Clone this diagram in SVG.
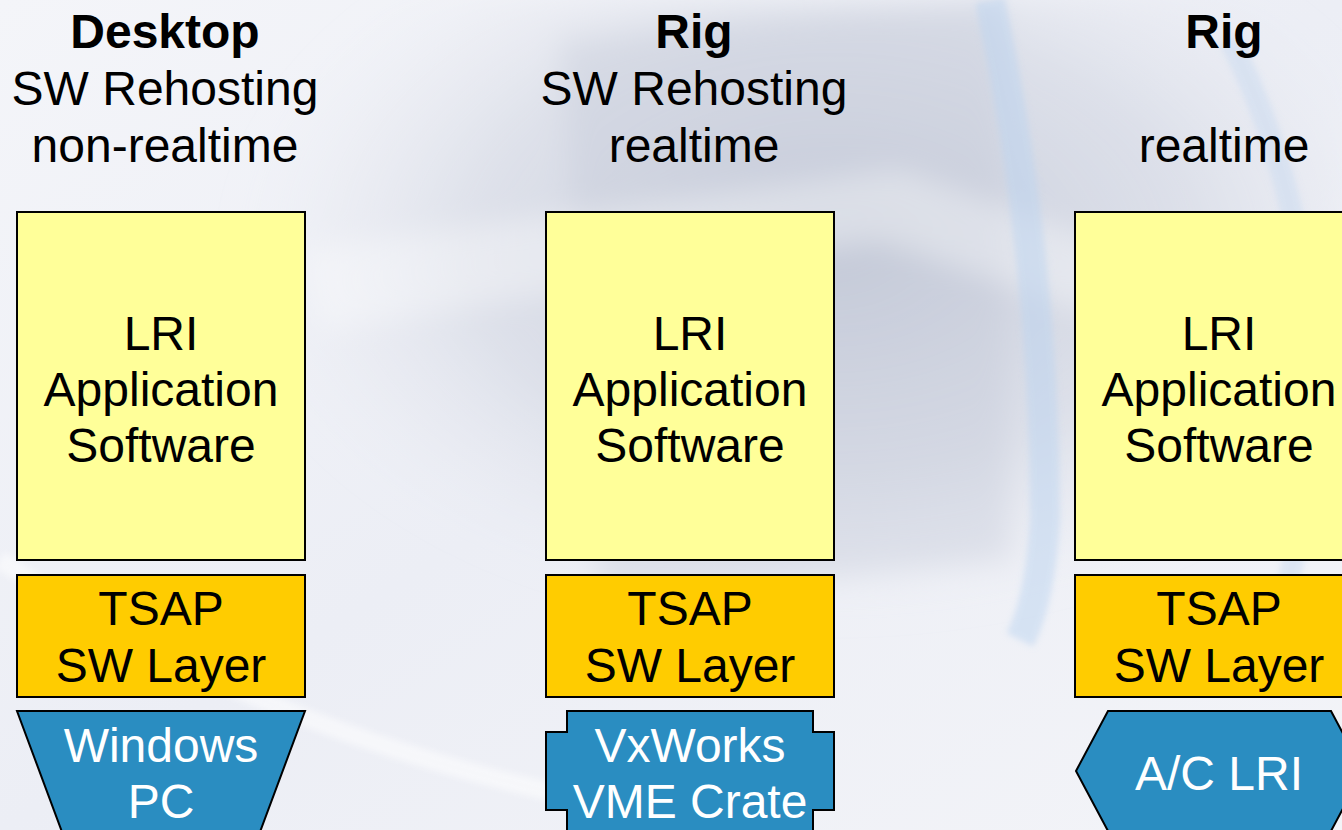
<svg xmlns="http://www.w3.org/2000/svg" width="1342" height="830" viewBox="0 0 1342 830">
  <defs>
    <linearGradient id="bg" x1="0" y1="0" x2="1" y2="1">
      <stop offset="0" stop-color="#f4f5f9"/>
      <stop offset="0.5" stop-color="#eceef5"/>
      <stop offset="1" stop-color="#f3f4f8"/>
    </linearGradient>
    <radialGradient id="shade" cx="0.62" cy="0.3" r="0.45">
      <stop offset="0" stop-color="#b9bfd0" stop-opacity="0.75"/>
      <stop offset="0.6" stop-color="#c9cedb" stop-opacity="0.45"/>
      <stop offset="1" stop-color="#e6e9f1" stop-opacity="0"/>
    </radialGradient>
    <filter id="soft" x="-20%" y="-20%" width="140%" height="140%">
      <feGaussianBlur stdDeviation="14"/>
    </filter>
    <filter id="haze" x="-20%" y="-20%" width="140%" height="140%">
      <feGaussianBlur stdDeviation="3"/>
    </filter>
    <style>
      .head { font-family: "Liberation Sans", Arial, sans-serif; font-size: 48px; fill: #000; text-anchor: middle; }
      .bold { font-weight: bold; }
      .lbl { font-family: "Liberation Sans", Arial, sans-serif; font-size: 48px; fill: #000; text-anchor: middle; }
      .lblw { font-family: "Liberation Sans", Arial, sans-serif; font-size: 48px; fill: #fff; text-anchor: middle; }
      .app { fill: #ffff99; stroke: #000; stroke-width: 2; }
      .tsap { fill: #ffcc00; stroke: #000; stroke-width: 2; }
      .plat { fill: #2a8dc1; stroke: #000; stroke-width: 2; }
    </style>
  </defs>

  <!-- backdrop -->
  <rect width="1342" height="830" fill="url(#bg)"/>
  <g filter="url(#soft)">
    <rect width="1342" height="830" fill="url(#shade)"/>
    <path d="M560 40 L1000 0 L1010 560 L600 600 Z" fill="#c3c8d6" opacity="0.35"/>
    <path d="M300 250 L900 170 L1342 330 L1342 400 L880 240 L320 330 Z" fill="#ffffff" opacity="0.35"/>
  </g>
  <g fill="none" opacity="0.5" filter="url(#haze)">
    <path d="M990 0 Q1045 260 1045 520 Q1040 600 1020 640" stroke="#bcd4f0" stroke-width="30"/>
    <path d="M1230 40 Q1360 300 1280 620" stroke="#c9daf0" stroke-width="22"/>
    <path d="M0 560 Q300 760 700 820" stroke="#ffffff" stroke-width="18"/>
  </g>

  <!-- column headings -->
  <g id="heading-desktop">
    <text class="head bold" x="165" y="48">Desktop</text>
    <text class="head" x="165" y="105">SW Rehosting</text>
    <text class="head" x="165" y="162">non-realtime</text>
  </g>
  <g id="heading-rig-rehost">
    <text class="head bold" x="694" y="48">Rig</text>
    <text class="head" x="694" y="105">SW Rehosting</text>
    <text class="head" x="694" y="162">realtime</text>
  </g>
  <g id="heading-rig">
    <text class="head bold" x="1224" y="48">Rig</text>
    <text class="head" x="1224" y="162">realtime</text>
  </g>

  <!-- column 1: desktop -->
  <g id="app-desktop">
    <rect class="app" x="17" y="212" width="288" height="348"/>
    <text class="lbl" x="161" y="350">LRI</text>
    <text class="lbl" x="161" y="406">Application</text>
    <text class="lbl" x="161" y="462">Software</text>
  </g>
  <g id="tsap-desktop">
    <rect class="tsap" x="17" y="575" width="288" height="122"/>
    <text class="lbl" x="161" y="625">TSAP</text>
    <text class="lbl" x="161" y="682">SW Layer</text>
  </g>
  <g id="platform-windows">
    <path class="plat" d="M17 711 L305 711 L257 840 L65 840 Z"/>
    <text class="lblw" x="161" y="762">Windows</text>
    <text class="lblw" x="161" y="818">PC</text>
  </g>

  <!-- column 2: rig, rehosted -->
  <g id="app-rig-rehost">
    <rect class="app" x="546" y="212" width="288" height="348"/>
    <text class="lbl" x="690" y="350">LRI</text>
    <text class="lbl" x="690" y="406">Application</text>
    <text class="lbl" x="690" y="462">Software</text>
  </g>
  <g id="tsap-rig-rehost">
    <rect class="tsap" x="546" y="575" width="288" height="122"/>
    <text class="lbl" x="690" y="625">TSAP</text>
    <text class="lbl" x="690" y="682">SW Layer</text>
  </g>
  <g id="platform-vxworks">
    <path class="plat" d="M567 711 L813 711 L813 732 L834 732 L834 810 L813 810 L813 840 L567 840 L567 810 L546 810 L546 732 L567 732 Z"/>
    <text class="lblw" x="690" y="762">VxWorks</text>
    <text class="lblw" x="690" y="818">VME Crate</text>
  </g>

  <!-- column 3: rig, target hardware -->
  <g id="app-rig">
    <rect class="app" x="1075" y="212" width="288" height="348"/>
    <text class="lbl" x="1219" y="350">LRI</text>
    <text class="lbl" x="1219" y="406">Application</text>
    <text class="lbl" x="1219" y="462">Software</text>
  </g>
  <g id="tsap-rig">
    <rect class="tsap" x="1075" y="575" width="288" height="122"/>
    <text class="lbl" x="1219" y="625">TSAP</text>
    <text class="lbl" x="1219" y="682">SW Layer</text>
  </g>
  <g id="platform-aclri">
    <path class="plat" d="M1108 711 L1331 711 L1363 771 L1331 831 L1108 831 L1076 771 Z"/>
    <text class="lblw" x="1219" y="790">A/C LRI</text>
  </g>

  <g id="connectors"/>
</svg>
